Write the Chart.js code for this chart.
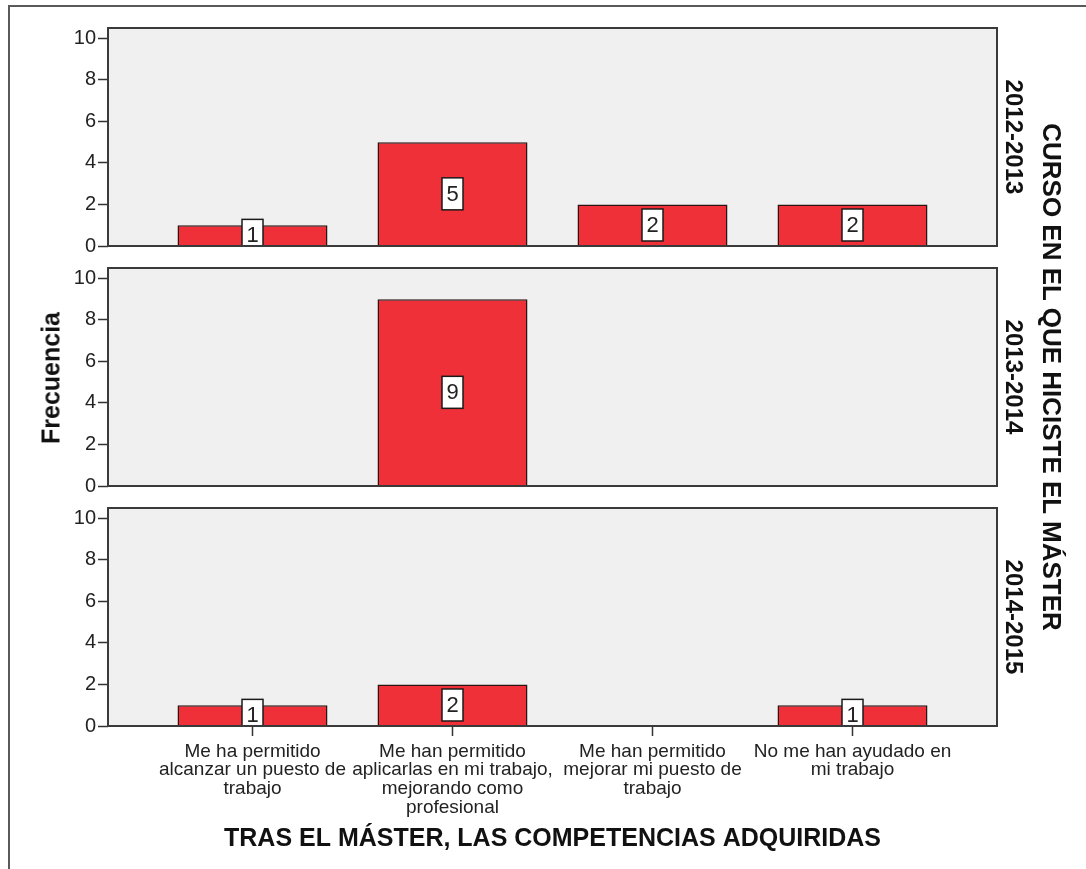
<!DOCTYPE html>
<html>
<head>
<meta charset="utf-8">
<script src="https://cdn.jsdelivr.net/npm/chart.js@4.4.1/dist/chart.umd.min.js"></script>
<style>
  html, body { margin: 0; padding: 0; background: #fff; }
  #wrap { position: relative; width: 1086px; height: 869px; overflow: hidden; font-family: "Liberation Sans", Arial, sans-serif; }
  #wrap canvas { position: absolute; left: 0; top: 0; }
  .frame { position: absolute; left: 8px; top: 5px; width: 1100px; height: 900px; border-left: 2px solid #5a5a5a; border-top: 2px solid #5a5a5a; }
  .lbl { position: absolute; white-space: nowrap; font-weight: bold; color: #111; transform: translate(-50%, -50%) rotate(90deg); }
  .ytitle { transform: translate(-50%, -50%) rotate(-90deg); }
</style>
</head>
<body>
<div id="wrap">
  <div class="frame"></div>
  <canvas id="c0" width="1086" height="869"></canvas>
  <canvas id="c1" width="1086" height="869"></canvas>
  <canvas id="c2" width="1086" height="869"></canvas>
  <div class="lbl ytitle" style="left:51px;top:378px;font-size:25px;">Frecuencia</div>
  <div class="lbl" id="curso0" style="left:1014px;font-size:24px;"></div>
  <div class="lbl" id="curso1" style="left:1014px;font-size:24px;"></div>
  <div class="lbl" id="curso2" style="left:1014px;font-size:24px;"></div>
  <div class="lbl" style="left:1051px;top:377px;font-size:26px;">CURSO EN EL QUE HICISTE EL MÁSTER</div>
</div>
<script>
// datos
const cursos = ['2012-2013', '2013-2014', '2014-2015'];
const categorias = [
    ['Me ha permitido', 'alcanzar un puesto de', 'trabajo'],
    ['Me han permitido', 'aplicarlas en mi trabajo,', 'mejorando como', 'profesional'],
    ['Me han permitido', 'mejorar mi puesto de', 'trabajo'],
    ['No me han ayudado en', 'mi trabajo']
];
const frec2012 = [1, 5, 2, 2];
const frec2013 = [0, 9, 0, 0];
const frec2014 = [1, 2, 0, 1];
const yTicks = [0, 2, 4, 6, 8, 10];
const tituloX = 'TRAS EL MÁSTER, LAS COMPETENCIAS ADQUIRIDAS';

const series = [frec2012, frec2013, frec2014];

// layout of the three panels
const panelTop = [28, 268, 508];
const panelBottom = [246, 486, 726];

Chart.defaults.font.family = '"Liberation Sans", Arial, sans-serif';
Chart.defaults.color = '#222';

const panelPlugin = {
    id: 'panel',
    beforeDraw(chart) {
        const { ctx, chartArea: a } = chart;
        ctx.save();
        ctx.fillStyle = '#f0f0f0';
        ctx.fillRect(a.left, a.top, a.width, a.height);
        ctx.restore();
    },
    afterDatasetsDraw(chart) {
        const { ctx, chartArea: a } = chart;
        const meta = chart.getDatasetMeta(0);
        const values = chart.data.datasets[0].data;
        ctx.save();
        ctx.beginPath();
        ctx.rect(a.left, a.top, a.width, a.height);
        ctx.clip();
        ctx.font = '22px "Liberation Sans", Arial, sans-serif';
        ctx.textAlign = 'center';
        ctx.textBaseline = 'middle';
        meta.data.forEach((bar, i) => {
            const v = values[i].y;
            if (!v) return;
            const cy = (bar.y + bar.base) / 2;
            ctx.fillStyle = '#fff';
            ctx.fillRect(bar.x - 10.5, cy - 16, 21, 32);
            ctx.strokeStyle = '#1a1a1a';
            ctx.lineWidth = 1.5;
            ctx.strokeRect(bar.x - 10.5, cy - 16, 21, 32);
            ctx.fillStyle = '#222';
            ctx.fillText(String(v), bar.x, cy + 1);
        });
        ctx.restore();
        ctx.save();
        ctx.strokeStyle = '#3a3a3a';
        ctx.lineWidth = 2;
        ctx.strokeRect(a.left, a.top, a.width, a.height);
        ctx.restore();
    }
};

function makeChart(idx) {
    const last = idx === series.length - 1;
    return new Chart(document.getElementById('c' + idx), {
        type: 'bar',
        data: {
            datasets: [{
                label: cursos[idx],
                data: series[idx].map((v, i) => ({ x: i, y: v })),
                backgroundColor: '#ef3038',
                borderColor: '#2a1414',
                borderWidth: (c) => (c.raw && c.raw.y ? 1.5 : 0),
                barPercentage: 0.75,
                categoryPercentage: 1
            }]
        },
        options: {
            responsive: false,
            animation: false,
            layout: {
                padding: { left: 0, right: 89, top: panelTop[idx], bottom: last ? 0 : 869 - panelBottom[idx] }
            },
            plugins: {
                legend: { display: false },
                tooltip: { enabled: false }
            },
            scales: {
                x: {
                    type: 'linear',
                    min: -0.7225,
                    max: 3.7225,
                    offset: false,
                    display: last,
                    afterBuildTicks: (s) => { s.ticks = categorias.map((c, i) => ({ value: i })); },
                    afterFit: (s) => { s.height = last ? 143 : 0; },
                    ticks: {
                        callback: (v) => categorias[v],
                        maxRotation: 0,
                        autoSkip: false,
                        padding: 6,
                        font: { size: 19, lineHeight: 0.985 }
                    },
                    grid: {
                        offset: false,
                        drawOnChartArea: false,
                        drawTicks: true,
                        tickLength: 10,
                        tickColor: '#333',
                        tickWidth: 1.5
                    },
                    border: { display: false },
                    title: {
                        display: true,
                        text: tituloX,
                        color: '#111',
                        font: { size: 25, weight: 'bold', lineHeight: 1.2 },
                        padding: { top: 0, bottom: 15 }
                    }
                },
                y: {
                    min: 0,
                    max: 10.5,
                    afterBuildTicks: (s) => { s.ticks = yTicks.map(v => ({ value: v })); },
                    afterFit: (s) => { s.width = 108; },
                    ticks: {
                        padding: 2,
                        font: { size: 20 }
                    },
                    grid: {
                        drawOnChartArea: false,
                        drawTicks: true,
                        tickLength: 10,
                        tickColor: '#333',
                        tickWidth: 1.5
                    },
                    border: { display: false }
                }
            }
        },
        plugins: [panelPlugin]
    });
}

series.forEach((s, i) => {
    const el = document.getElementById('curso' + i);
    el.textContent = cursos[i];
    el.style.top = ((panelTop[i] + panelBottom[i]) / 2) + 'px';
    makeChart(i);
});
</script>
</body>
</html>
